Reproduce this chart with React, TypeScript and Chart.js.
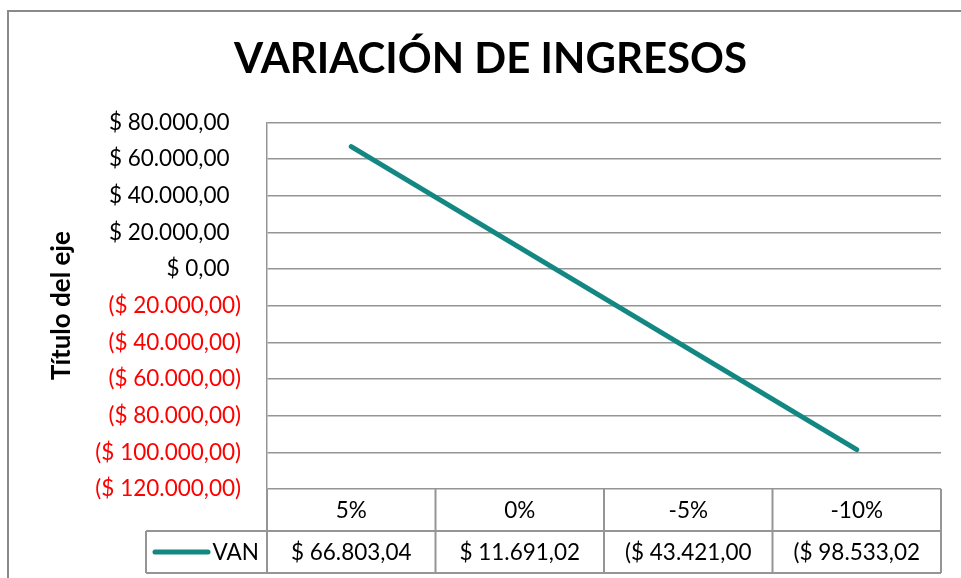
import React, { useEffect, useRef } from "react";
import { Chart, registerables } from "chart.js";

Chart.register(...registerables);

const chartTitle = "VARIACIÓN DE INGRESOS";
const axisTitle = "Título del eje";
const seriesName = "VAN";
const categories = ["5%", "0%", "-5%", "-10%"];
const vanValues = [66803.04, 11691.02, -43421.0, -98533.02];
const vanLabels = ["$ 66.803,04", "$ 11.691,02", "($ 43.421,00", "($ 98.533,02"];
const yMin = -120000;
const yMax = 80000;
const yStep = 20000;

const FONT = "Lato";
const TEAL = "#138882";
const GRID = "#959595";

function fmtMoney(v: number): string {
  const abs = Math.abs(v);
  const s = abs
    .toFixed(2)
    .replace(".", ",")
    .replace(/\B(?=(\d{3})+(?!\d))/g, ".");
  return v < 0 ? `($ ${s})` : `$ ${s}  `;
}

export default function App() {
  const ref = useRef<HTMLCanvasElement>(null);

  useEffect(() => {
    if (!ref.current) return;

    const framePlugin = {
      id: "frame",
      beforeDraw(chart: any) {
        const { ctx, width, height } = chart;
        ctx.save();
        ctx.fillStyle = "#ffffff";
        ctx.fillRect(0, 0, width, height);
        ctx.strokeStyle = "#8a8a8a";
        ctx.lineWidth = 2;
        ctx.beginPath();
        ctx.moveTo(8, height);
        ctx.lineTo(8, 11);
        ctx.lineTo(width, 11);
        ctx.stroke();
        ctx.restore();
      },
    };

    const tablePlugin = {
      id: "dataTable",
      afterDraw(chart: any) {
        const { ctx, chartArea } = chart;
        const xs = chart.scales.x;
        const left = chartArea.left;
        const right = chartArea.right;
        const top = chartArea.bottom;
        const rowH = 42;
        const mid = top + rowH;
        const bot = top + 2 * rowH;
        const legendLeft = left - 121;
        const n = categories.length;
        const colW = (right - left) / n;

        ctx.save();
        ctx.strokeStyle = GRID;
        ctx.lineWidth = 2;
        const line = (x1: number, y1: number, x2: number, y2: number) => {
          ctx.beginPath();
          ctx.moveTo(x1, y1);
          ctx.lineTo(x2, y2);
          ctx.stroke();
        };
        line(legendLeft, mid, right, mid);
        line(legendLeft, bot, right, bot);
        for (let i = 0; i <= n; i++) {
          const xi = left + i * colW;
          line(xi, top, xi, bot);
        }
        line(legendLeft, mid, legendLeft, bot);

        ctx.fillStyle = "#000000";
        ctx.font = `22.5px ${FONT}`;
        ctx.textAlign = "center";
        ctx.textBaseline = "middle";
        categories.forEach((c, i) => {
          const cx = xs.getPixelForValue(i);
          ctx.fillText(c, cx, top + rowH / 2 + 1);
          ctx.save();
          ctx.beginPath();
          ctx.rect(left + i * colW + 2, mid, colW - 4, rowH);
          ctx.clip();
          ctx.fillText(vanLabels[i], cx, mid + rowH / 2 + 1);
          ctx.restore();
        });

        // legend key
        ctx.strokeStyle = TEAL;
        ctx.lineWidth = 5;
        ctx.lineCap = "round";
        line(legendLeft + 9, mid + rowH / 2, legendLeft + 62, mid + rowH / 2);
        ctx.textAlign = "right";
        ctx.fillText(seriesName, left - 8, mid + rowH / 2 + 1);
        ctx.restore();
      },
    };

    const chart = new Chart(ref.current, {
      type: "line",
      data: {
        labels: categories,
        datasets: [
          {
            label: seriesName,
            data: vanValues,
            borderColor: TEAL,
            backgroundColor: TEAL,
            borderWidth: 5,
            borderCapStyle: "round",
            pointRadius: 0,
            tension: 0,
            fill: false,
          },
        ],
      },
      options: {
        responsive: false,
        animation: false,
        layout: { padding: { left: 40, right: 20, top: 0, bottom: 89 } },
        plugins: {
          legend: { display: false },
          tooltip: { enabled: false },
          title: {
            display: true,
            text: chartTitle,
            color: "#000000",
            font: { family: FONT, size: 42, weight: "bold", lineHeight: 1.2 },
            padding: { top: 34, bottom: 38 },
          },
        },
        scales: {
          x: {
            type: "category",
            offset: true,
            display: false,
          },
          y: {
            min: yMin,
            max: yMax,
            afterFit(scale: any) {
              scale.width = 227;
            },
            ticks: {
              stepSize: yStep,
              padding: 26,
              font: { family: FONT, size: 22.5 },
              color: (c: any) => (c.tick && c.tick.value < 0 ? "#ff0000" : "#000000"),
              callback: (v: any) => fmtMoney(Number(v)),
            },
            grid: { color: GRID, lineWidth: 1.5, drawTicks: false },
            border: { display: true, color: GRID, width: 1.5 },
            title: {
              display: true,
              text: axisTitle,
              color: "#000000",
              font: { family: FONT, size: 26, weight: "bold", lineHeight: 1 },
              padding: { top: 9, bottom: 0 },
            },
          },
        },
      },
      plugins: [framePlugin, tablePlugin],
    } as any);

    return () => chart.destroy();
  }, []);

  return (
    <div style={{ position: "fixed", left: 0, top: 0, width: 961, height: 578 }}>
      <canvas ref={ref} width={961} height={578} style={{ display: "block" }} />
    </div>
  );
}
